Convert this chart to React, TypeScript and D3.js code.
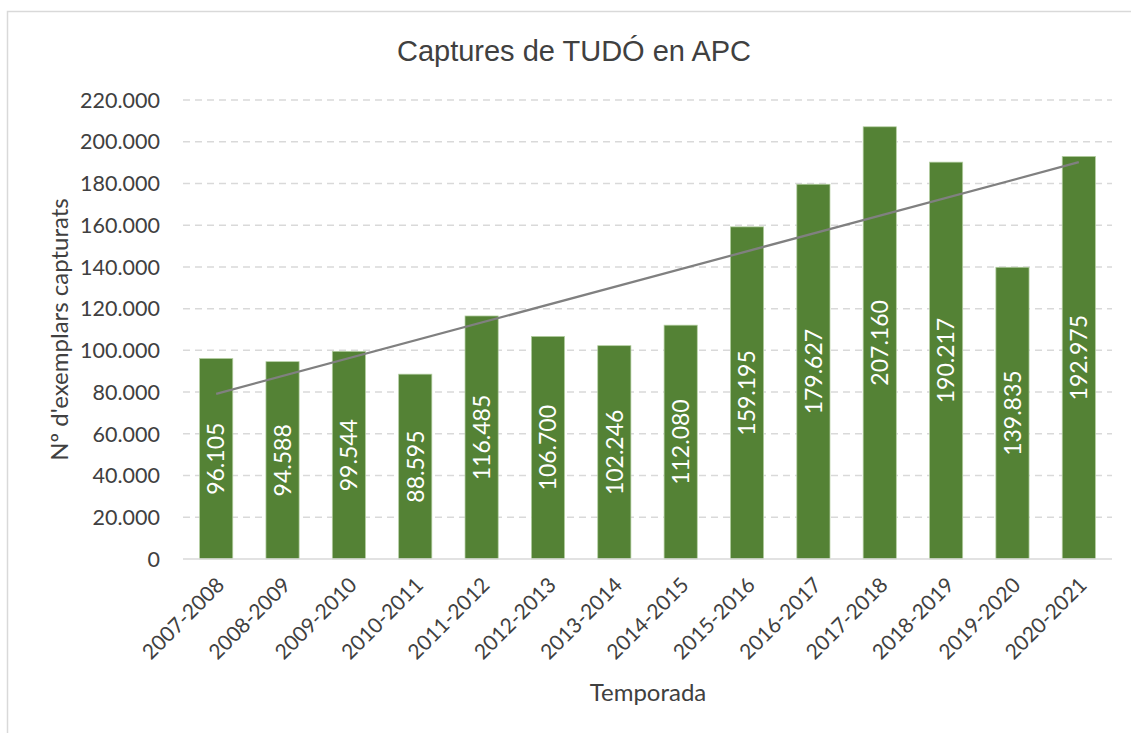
import React from "react";
import * as d3 from "d3";

const categories = [
  "2007-2008", "2008-2009", "2009-2010", "2010-2011", "2011-2012", "2012-2013", "2013-2014",
  "2014-2015", "2015-2016", "2016-2017", "2017-2018", "2018-2019", "2019-2020", "2020-2021",
];
const captures = [
  96105, 94588, 99544, 88595, 116485, 106700, 102246, 112080, 159195, 179627, 207160, 190217, 139835, 192975,
];
const yTicks = [0, 20000, 40000, 60000, 80000, 100000, 120000, 140000, 160000, 180000, 200000, 220000];
const title = "Captures de TUDÓ en APC";
const yTitle = "Nº d'exemplars capturats";
const xTitle = "Temporada";

const W = 1131;
const H = 733;
const plot = { left: 183, right: 1112, top: 100, bottom: 559 };
const textColor = "#404040";
const barColor = "#548235";
const gridColor = "#d9d9d9";
const font = "Lato, 'Open Sans', sans-serif";

const locale = d3.formatLocale({ decimal: ",", thousands: ".", grouping: [3], currency: ["", "€"] });
const fmt = locale.format(",d");

export default function App() {
  const x = d3
    .scaleBand<string>()
    .domain(categories)
    .range([plot.left, plot.right])
    .paddingInner(0.5)
    .paddingOuter(0.25);
  const y = d3.scaleLinear().domain([0, 220000]).range([plot.bottom, plot.top]);

  // linear trendline (least squares) computed from the data
  const n = captures.length;
  const xs = captures.map((_, i) => i + 1);
  const mx = d3.mean(xs) as number;
  const my = d3.mean(captures) as number;
  const slope =
    d3.sum(xs.map((xi, i) => (xi - mx) * (captures[i] - my))) / d3.sum(xs.map((xi) => (xi - mx) ** 2));
  const intercept = my - slope * mx;
  const trendPts: [number, number][] = [
    [x(categories[0])! + x.bandwidth() / 2, y(intercept + slope * 1)],
    [x(categories[n - 1])! + x.bandwidth() / 2, y(intercept + slope * n)],
  ];
  const line = d3.line();

  return (
    <svg
      width={W}
      height={H}
      style={{ position: "absolute", left: 0, top: 0, background: "#fff" }}
      fontFamily={font}
    >
      <rect x={0} y={0} width={W} height={H} fill="#fff" />
      <rect x={7.5} y={11.5} width={W + 20} height={H + 20} fill="none" stroke="#d9d9d9" strokeWidth={1.5} />

      <text
        x={574}
        y={61}
        textAnchor="middle"
        fontFamily="'Liberation Sans', Arial, sans-serif"
        fontSize={29}
        fill={textColor}
      >
        {title}
      </text>

      {/* gridlines */}
      {yTicks.map((t) =>
        t === 0 ? null : (
          <line
            key={"g" + t}
            x1={plot.left}
            x2={plot.right}
            y1={y(t)}
            y2={y(t)}
            stroke={gridColor}
            strokeWidth={1.5}
            strokeDasharray="7,5"
          />
        )
      )}

      {/* y tick labels */}
      {yTicks.map((t) => (
        <text key={"yt" + t} x={160} y={y(t)} dy="0.36em" textAnchor="end" fontSize={21.5} fill={textColor}>
          {fmt(t)}
        </text>
      ))}

      {/* bars */}
      {categories.map((c, i) => (
        <rect
          key={"b" + c}
          x={x(c)!}
          y={y(captures[i])}
          width={x.bandwidth()}
          height={y(0) - y(captures[i])}
          fill={barColor}
          stroke="#b5cfa3"
          strokeWidth={0.75}
        />
      ))}

      {/* axis line */}
      <line x1={plot.left} x2={plot.right} y1={y(0)} y2={y(0)} stroke={gridColor} strokeWidth={1.5} />

      {/* trendline */}
      <path d={line(trendPts) || ""} stroke="#808080" strokeWidth={2.25} fill="none" />

      {/* bar labels */}
      {categories.map((c, i) => {
        const cx = x(c)! + x.bandwidth() / 2;
        const cy = (y(captures[i]) + y(0)) / 2;
        return (
          <text
            key={"l" + c}
            transform={`translate(${cx},${cy}) rotate(-90)`}
            dy="0.36em"
            textAnchor="middle"
            fontSize={23}
            fill="#ffffff"
          >
            {fmt(captures[i])}
          </text>
        );
      })}

      {/* x tick labels */}
      {categories.map((c) => {
        const cx = x(c)! + x.bandwidth() / 2;
        return (
          <text
            key={"xt" + c}
            transform={`translate(${cx + 4},${plot.bottom + 22}) rotate(-45)`}
            dy="0.36em"
            textAnchor="end"
            fontSize={21}
            fill={textColor}
          >
            {c}
          </text>
        );
      })}

      {/* axis titles */}
      <text x={648} y={701} textAnchor="middle" fontSize={24} fill={textColor}>
        {xTitle}
      </text>
      <text
        transform={`translate(59,${(plot.top + plot.bottom) / 2}) rotate(-90)`}
        dy="0.36em"
        textAnchor="middle"
        fontSize={24}
        fill={textColor}
      >
        {yTitle}
      </text>
    </svg>
  );
}
